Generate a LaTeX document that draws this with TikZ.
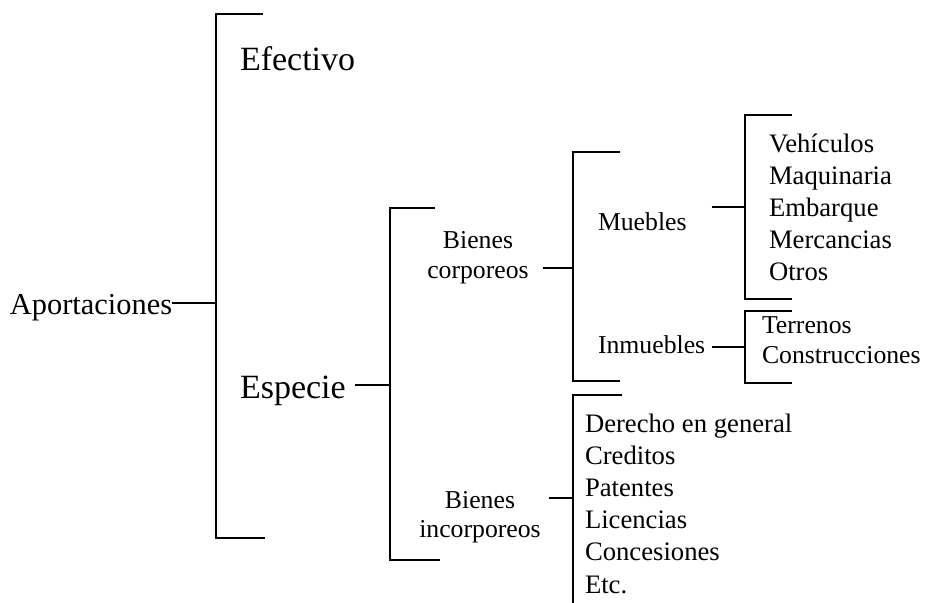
\documentclass[tikz,border=0pt]{standalone}
\usepackage{fontspec}
\setmainfont{Liberation Serif}
\usetikzlibrary{positioning,calc}
\tikzset{
    % Lines
    bracket line/.style={line width=2.1pt},
    link/.style={line width=1.5pt},
    %
    % Text sizes
    big text/.style={font=\fontsize{25.5}{30}\selectfont},
    mid text/.style={font=\fontsize{22.8}{27}\selectfont},
    list text/.style={font=\fontsize{20}{24}\selectfont}
}
\tikzstyle{every node}=[font=\fontsize{19.3}{22.5}\selectfont, inner sep=0pt, outer sep=0pt]

\begin{document}
\begin{tikzpicture}
        [
            x=0.75pt, y=-0.75pt,
            item/.style={anchor=base west},
            group node/.style={align=center}
        ]
        \useasboundingbox (0,0) rectangle (926,603);
        % brackets
        \draw[bracket line] (263,14) -- (216,14) -- (216,538) -- (265,538);
        \draw[bracket line] (435,208) -- (390,208) -- (390,560) -- (440,560);
        \draw[bracket line] (620,152) -- (573,152) -- (573,381) -- (620,381);
        \draw[bracket line] (792,115) -- (745,115) -- (745,299) -- (792,299);
        \draw[bracket line] (792,311) -- (745,311) -- (745,383) -- (792,383);
        \draw[bracket line] (622,395) -- (573,395) -- (573,603);
        \coordinate (jap) at (216,303);
        \coordinate (jesp) at (390,385);
        \coordinate (jbc) at (573,268);
        \coordinate (jbi) at (573,498);
        \coordinate (jmu) at (745,207);
        \coordinate (jin) at (745,347);
        % labels
        \node[mid text, item] (aport) at (10,314) {Aportaciones};
        \node[big text, item] (efec) at (240,70) {Efectivo};
        \node[big text, item] (esp) at (240,398) {Especie};
        \node[group node] (bcorp) at (478,258) {Bienes\\corporeos};
        \node[group node, font=\fontsize{19.3}{21.75}\selectfont] (binc) at (480,517) {Bienes\\incorporeos};
        \node[item] (mue) at (598,230) {Muebles};
        \node[item] (inm) at (598,353) {Inmuebles};
        \foreach \t [count=\i from 0] in {Vehículos,Maquinaria,Embarque,Mercancias,Otros}
            \node[list text, item] (mu\i) at (769,152+32*\i) {\t};
        \node[item] (ter) at (762,333) {Terrenos};
        \node[item] (con) at (762,363) {Construcciones};
        \foreach \t [count=\i from 0] in {Derecho en general,Creditos,Patentes,Licencias,Concesiones,Etc.}
            \node[list text, item] (in\i) at (585,432+32.2*\i) {\t};
        % connectors
        \draw[link] (aport.east |- jap) -- (jap);
        \draw[link, shorten <=6.75pt] (esp.east |- jesp) -- (jesp);
        \draw[link, shorten <=10.5pt] (bcorp.east |- jbc) -- (jbc);
        \draw[link, shorten <=6pt] (binc.east |- jbi) -- (jbi);
        \draw[link, shorten <=18.75pt] (mue.east |- jmu) -- (jmu);
        \draw[link, shorten <=5pt] (inm.east |- jin) -- (jin);
    \end{tikzpicture}
\end{document}
